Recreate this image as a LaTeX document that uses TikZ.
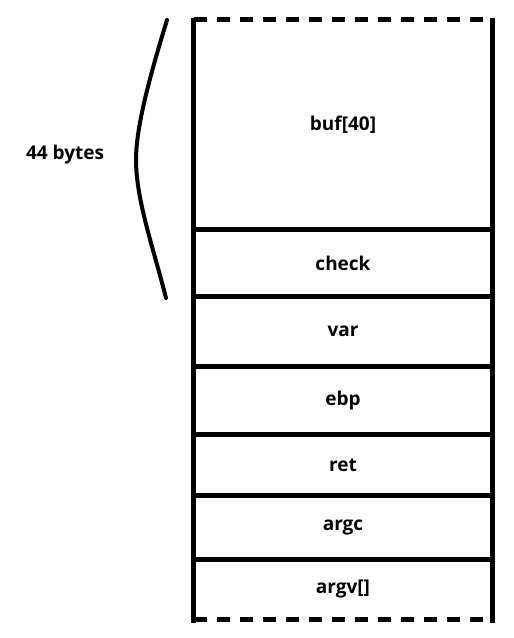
\documentclass[tikz,border=0pt]{standalone}
\usepackage{fontspec}
\setmainfont{Open Sans}
\usetikzlibrary{positioning}
\tikzset{
  cell/.style ={minimum width=298pt, minimum height=#1, inner sep=0pt, font=\bfseries\fontsize{19}{22}\selectfont},
  wall/.style ={line width=5pt},
  rim/.style  ={line width=5pt, dash pattern=on 13pt off 10pt},
  curl/.style ={line width=4pt, line cap=round},
  lbl/.style  ={font=\bfseries\fontsize{19}{22}\selectfont},
}
\begin{document}
\begin{tikzpicture}[x=1pt,y=-1pt]
    \useasboundingbox (0,0) rectangle (514,638);
    \node[cell=209pt] (buf) at (343,124.5) {\raisebox{-5pt}{buf[40]}};
    \node[cell=67pt, below=0pt of buf]   (check) {check};
    \node[cell=69pt, below=0pt of check] (var)   {var};
    \node[cell=68pt, below=0pt of var]   (ebp)   {ebp};
    \node[cell=61pt, below=0pt of ebp]   (ret)   {ret};
    \node[cell=63pt, below=0pt of ret]   (argc)  {argc};
    \node[cell=60pt, below=0pt of argc]  (argv)  {argv[]};

    % sides and dividers
    \draw[wall] ([yshift=2pt]buf.north west) -- ([yshift=-3pt]argv.south west);
    \draw[wall] ([yshift=2pt]buf.north east) -- ([yshift=-3pt]argv.south east);
    \foreach \n in {buf,check,var,ebp,ret,argc} \draw[wall] (\n.south west) -- (\n.south east);
    \draw[rim] (buf.north west) -- (buf.north east);
    \draw[rim] (argv.south west) -- (argv.south east);

    % size mark
    \node[lbl] (size) at (65,155) {44 bytes};
    \draw[curl] (167,20) .. controls (147,85) and (136,130) .. (136,160)
          .. controls (136,200) and (154,250) .. (166,298);
  \end{tikzpicture}
\end{document}
